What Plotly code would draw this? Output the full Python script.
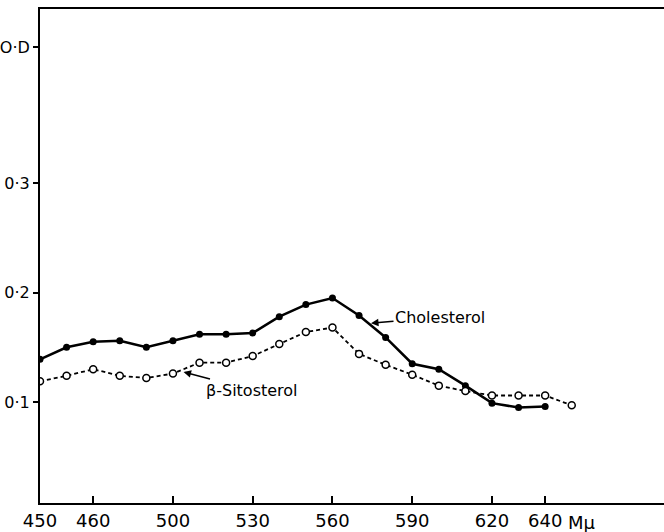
import plotly.graph_objects as go

# Wavelength (mμ) at which each absorbance reading was taken
wavelength_chol = [450, 460, 470, 480, 490, 500, 510, 520, 530, 540,
                   550, 560, 570, 580, 590, 600, 610, 620, 630, 640]
wavelength_sito = [450, 460, 470, 480, 490, 500, 510, 520, 530, 540,
                   550, 560, 570, 580, 590, 600, 610, 620, 630, 640, 650]

# Optical density readings
od_cholesterol = [0.139, 0.150, 0.155, 0.156, 0.150, 0.156, 0.162, 0.162, 0.163, 0.178,
                  0.189, 0.195, 0.179, 0.159, 0.135, 0.130, 0.115, 0.099, 0.095, 0.096]
od_sitosterol = [0.119, 0.124, 0.130, 0.124, 0.122, 0.126, 0.136, 0.136, 0.142, 0.153,
                 0.164, 0.168, 0.144, 0.134, 0.125, 0.115, 0.110, 0.106, 0.106, 0.106, 0.097]

# Axis ticks as lettered on the original drawing
x_tick_values = [450, 470, 500, 530, 560, 590, 620, 640]
x_tick_labels = ["450", "460", "500", "530", "560", "590", "620", "640"]
y_tick_values = [0.1, 0.2, 0.3, 0.424]
y_tick_labels = ["0·1", "0·2", "0·3", "O·D"]

FONT = "DejaVu Sans"

fig = go.Figure()

fig.add_trace(go.Scatter(
    x=wavelength_chol, y=od_cholesterol, mode="lines+markers",
    name="Cholesterol",
    line=dict(color="black", width=2.5),
    marker=dict(symbol="circle", size=7, color="black"),
))

fig.add_trace(go.Scatter(
    x=wavelength_sito, y=od_sitosterol, mode="lines+markers",
    name="β-Sitosterol",
    line=dict(color="black", width=1.8, dash="4px,3px"),
    marker=dict(symbol="circle", size=7, color="white",
                line=dict(color="black", width=1.5)),
))

fig.add_annotation(
    x=574.5, y=0.172, ax=69, ay=-6,
    text="Cholesterol", showarrow=True,
    arrowhead=2, arrowsize=1, arrowwidth=1.5, arrowcolor="black",
    font=dict(family=FONT, size=16, color="black"),
)
fig.add_annotation(
    x=504, y=0.1274, ax=68, ay=18,
    text="β-Sitosterol", showarrow=True,
    arrowhead=2, arrowsize=1, arrowwidth=1.5, arrowcolor="black",
    font=dict(family=FONT, size=16, color="black"),
)
# Unit of the wavelength axis, lettered after the last tick label
fig.add_annotation(
    x=648, xref="x", y=0, yref="paper",
    xanchor="left", yanchor="top", yshift=-7,
    text="Mμ", showarrow=False,
    font=dict(family=FONT, size=18, color="black"),
)

fig.update_layout(
    width=664, height=532,
    margin=dict(l=38, r=0, t=9, b=29),
    paper_bgcolor="white", plot_bgcolor="white",
    showlegend=False,
    font=dict(family=FONT, color="black"),
)

fig.update_xaxes(
    range=[450, 684.7],
    tickmode="array", tickvals=x_tick_values, ticktext=x_tick_labels,
    ticks="inside", ticklen=7, tickwidth=1.5, tickcolor="black",
    showline=True, linecolor="black", linewidth=2, mirror=True,
    showgrid=False, zeroline=False,
    tickfont=dict(family=FONT, size=18, color="black"),
)
fig.update_yaxes(
    range=[0.0078, 0.459],
    tickmode="array", tickvals=y_tick_values, ticktext=y_tick_labels,
    ticks="outside", ticklen=5, tickwidth=1.5, tickcolor="black",
    showline=True, linecolor="black", linewidth=2,
    showgrid=False, zeroline=False,
    tickfont=dict(family=FONT, size=16, color="black"),
)

fig.write_html("out.html")
